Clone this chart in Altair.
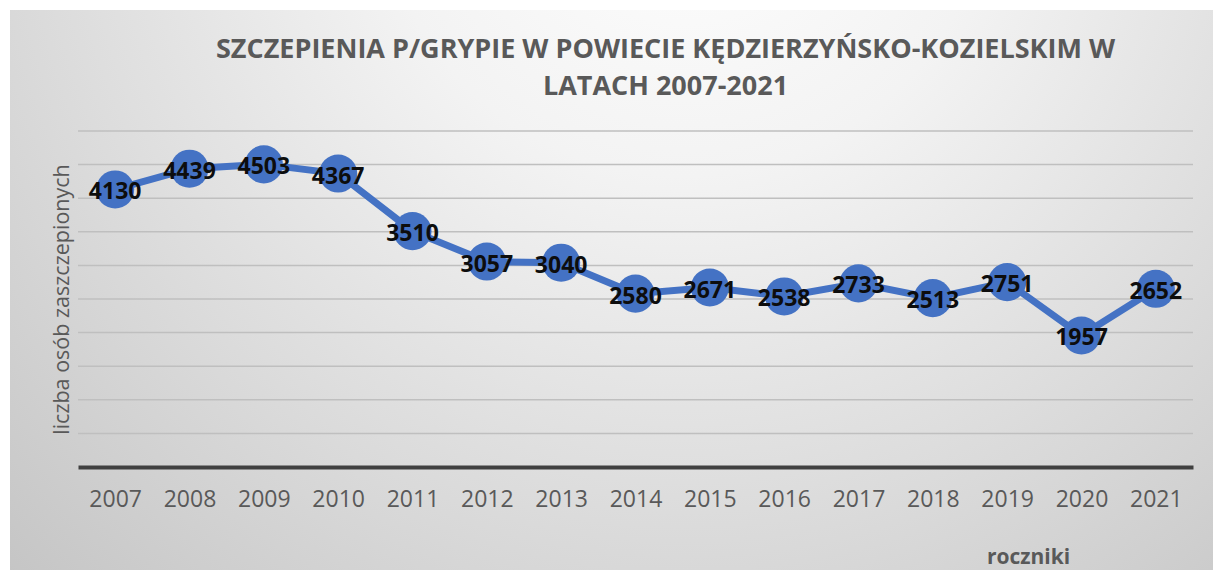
import altair as alt
import pandas as pd

# ---- data ----
YEARS = ["2007", "2008", "2009", "2010", "2011", "2012", "2013", "2014",
         "2015", "2016", "2017", "2018", "2019", "2020", "2021"]
VACCINATED = [4130, 4439, 4503, 4367, 3510, 3057, 3040, 2580,
              2671, 2538, 2733, 2513, 2751, 1957, 2652]
GRID_VALUES = [500, 1000, 1500, 2000, 2500, 3000, 3500, 4000, 4500, 5000]
Y_DOMAIN = [0, 5000]
TITLE_LINES = ["SZCZEPIENIA P/GRYPIE W POWIECIE KĘDZIERZYŃSKO-KOZIELSKIM W",
               "LATACH 2007-2021"]
Y_TITLE = "liczba osób zaszczepionych"
X_TITLE = "roczniki"

df = pd.DataFrame({"rok": YEARS, "liczba": VACCINATED})
grid_df = pd.DataFrame({"liczba": GRID_VALUES})
one_df = pd.DataFrame({"a": [0]})

# ---- layout ----
W, H = 1115, 336
PAD_L, PAD_T, PAD_R, PAD_B = 70, 123, 22, 105
BLUE = "#4472C4"
GRAY_TXT = "#595959"
FONT = "Open Sans"

yscale = alt.Scale(domain=Y_DOMAIN, nice=False, zero=True)
xscale = alt.Scale(type="point", padding=0.5)

bg_fill = {
    "gradient": "radial",
    "x1": 0.56, "y1": 0.15, "r1": 0.0,
    "x2": 0.56, "y2": 0.15, "r2": 0.85,
    "stops": [
        {"offset": 0.0, "color": "#ffffff"},
        {"offset": 0.3, "color": "#f3f3f3"},
        {"offset": 1.0, "color": "#c2c2c2"},
    ],
}

background = alt.Chart(one_df).mark_rect(fill=bg_fill, strokeWidth=0).encode(
    x=alt.value(-PAD_L + 2), x2=alt.value(W + PAD_R - 2),
    y=alt.value(-PAD_T + 2), y2=alt.value(H + PAD_B - 2),
)

title_text = alt.Chart(one_df).mark_text(
    font=FONT, fontSize=27, fontWeight="bold", color=GRAY_TXT,
    align="center", baseline="alphabetic", lineHeight=37,
).encode(
    x=alt.value(W / 2 + 30), y=alt.value(-73), text=alt.value(TITLE_LINES)
)

y_axis = alt.Axis(
    title=Y_TITLE, labels=False, ticks=False, domain=False, grid=False,
    titleFont=FONT, titleFontSize=21.5, titleFontWeight=500, titleColor=GRAY_TXT,
    titleX=-16, titleY=H / 2, titleAngle=270, titleAlign="center",
    titleBaseline="middle", zindex=1,
)

grid = alt.Chart(grid_df).mark_rule(color="#bfbfbf", strokeWidth=1.5).encode(
    y=alt.Y("liczba:Q", scale=yscale, axis=y_axis)
)

x_enc = alt.X(
    "rok:N", scale=xscale, sort=YEARS,
    axis=alt.Axis(
        title=X_TITLE, labelAngle=0, ticks=False, tickSize=0, grid=False,
        domainColor="#404040", domainWidth=4, domainCap="butt",
        labelFont=FONT, labelFontSize=23, labelColor=GRAY_TXT, labelPadding=21,
        titleFont=FONT, titleFontSize=21, titleFontWeight="bold", titleColor=GRAY_TXT,
        titleX=950, titleY=96, titleAlign="center", titleBaseline="alphabetic",
        zindex=1,
    ),
)
y_plain = alt.Y("liczba:Q", scale=yscale, axis=y_axis)

line = alt.Chart(df).mark_line(color=BLUE, strokeWidth=7).encode(x=x_enc, y=y_plain)
points = alt.Chart(df).mark_circle(size=1450, color=BLUE, opacity=1).encode(
    x=x_enc, y=y_plain,
)
labels = alt.Chart(df).mark_text(
    font=FONT, fontSize=23, fontWeight="bold", color="#0d0d0d", dy=3
).encode(
    x=x_enc, y=y_plain,
    text=alt.Text("liczba:Q", format="d"),
)

chart = alt.layer(background, title_text, grid, line, points, labels).properties(
    width=W, height=H,
    padding={"left": PAD_L, "top": PAD_T, "right": PAD_R, "bottom": PAD_B},
    autosize=alt.AutoSizeParams(type="none"),
).configure_view(stroke=None).configure(background="#ffffff")

chart.save("out.html", embed_options={"renderer": "svg", "actions": False})
